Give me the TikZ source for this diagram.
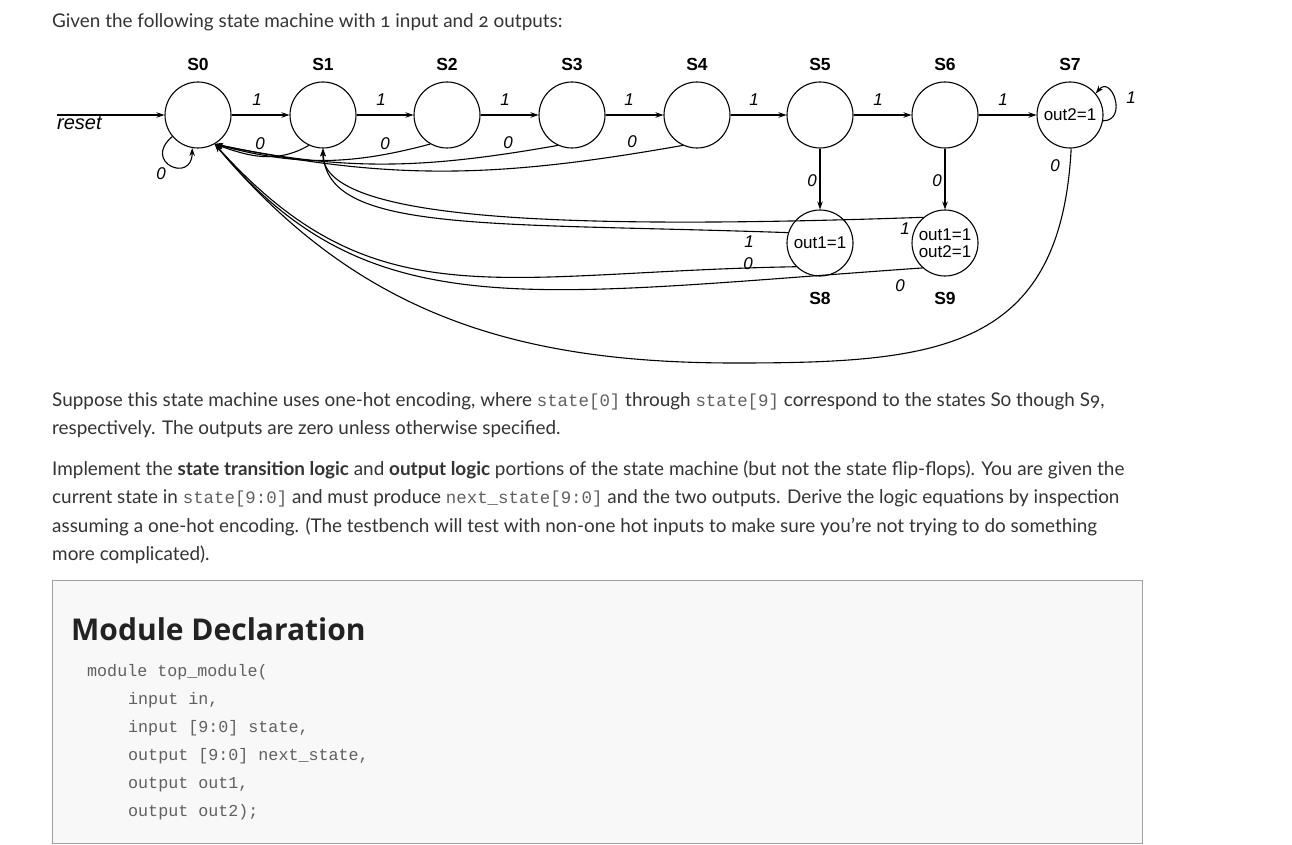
\documentclass[tikz,border=0pt]{standalone}
\usepackage{fontspec}
\setmainfont{Lato}[Numbers=OldStyle]
\setmonofont{Liberation Mono}
\newfontfamily\diagfont{Liberation Sans}
\newfontfamily\headfont{Open Sans}
\usetikzlibrary{arrows.meta}
\definecolor{bodytext}{HTML}{333333}
\definecolor{codegray}{HTML}{606060}
\definecolor{boxfill}{HTML}{F8F8F8}
\definecolor{boxline}{HTML}{A0A0A0}
\definecolor{headtext}{HTML}{222222}
\newcommand{\code}[1]{{\ttfamily\fontsize{17.4}{17.4}\selectfont\color{codegray}#1}}

\begin{document}
\begin{tikzpicture}[x=1pt,y=1pt,
  fsm/.style={draw,circle,minimum size=66pt,line width=1.1pt,font=\diagfont\fontsize{17}{17}\selectfont},
  tag/.style={font=\diagfont\bfseries\fontsize{17.5}{17.5}\selectfont},
  lbl/.style={font=\diagfont\itshape\fontsize{17}{17}\selectfont},
  edge/.style={line width=1.1pt,-{Stealth[length=8pt,width=5.5pt]}},
  para/.style={anchor=base west,font=\fontsize{18.9}{18.9}\selectfont,text=bodytext},
  codeline/.style={anchor=base west,font=\ttfamily\fontsize{16.7}{16.7}\selectfont,text=codegray}]
\tikzstyle{every node}+=[inner sep=0pt]
\path[use as bounding box,fill=white] (0,0) rectangle (1292,-845);
\node[para] (intro) at (52,-27.5) {Given the following state machine with 1 input and 2 outputs:};
\node[fsm] (S0) at (198,-115) {};
\node[fsm] (S1) at (323,-115) {};
\node[fsm] (S2) at (447,-115) {};
\node[fsm] (S3) at (572,-115) {};
\node[fsm] (S4) at (697,-115) {};
\node[fsm] (S5) at (820,-115) {};
\node[fsm] (S6) at (945,-115) {};
\node[fsm] (S7) at (1070,-115) {out2=1};
\node[fsm] (S8) at (820,-243) {out1=1};
\node[fsm,align=center] (S9) at (945,-243) {out1=1\\out2=1};
\node[tag] (t0) at (198,-64) {S0};
\node[tag] (t1) at (323,-64) {S1};
\node[tag] (t2) at (447,-64) {S2};
\node[tag] (t3) at (572,-64) {S3};
\node[tag] (t4) at (697,-64) {S4};
\node[tag] (t5) at (820,-64) {S5};
\node[tag] (t6) at (945,-64) {S6};
\node[tag] (t7) at (1070,-64) {S7};
\node[tag] (t8) at (820,-298) {S8};
\node[tag] (t9) at (945,-298) {S9};
\coordinate (rst) at (57,-115);
\coordinate (bot) at (735,-363);
\node[lbl,anchor=north west,font=\diagfont\itshape\fontsize{20}{20}\selectfont] (rlbl) at (57,-116) {reset};
\draw[edge] (rst) -- (S0);
\draw[edge] (S0) -- (S1);
\draw[edge] (S1) -- (S2);
\draw[edge] (S2) -- (S3);
\draw[edge] (S3) -- (S4);
\draw[edge] (S4) -- (S5);
\draw[edge] (S5) -- (S6);
\draw[edge] (S6) -- (S7);
\draw[edge] (S5) -- (S8);
\draw[edge] (S6) -- (S9);
\draw[edge] (S0.-140) to[out=-140,in=-90,out distance=40pt,in distance=36pt] (S0.-100);
\draw[edge] (S7.-10) to[out=0,in=50,distance=25pt] (S7.40);
\draw[edge] (S1.-115) to[out=-150,in=-20] (S0.-60);
\draw[edge] (S2.-120) to[out=-165,in=-15] (S0.-60);
\draw[edge] (S3.-115) to[out=-170,in=-12] (S0.-60);
\draw[edge] (S4.-115) to[out=-170,in=-12] (S0.-60);
\draw[edge] (S8.162) to[out=178,in=-88,out distance=300pt,in distance=85pt] (S1.-90);
\draw[edge] (S9.130) to[out=182,in=-92,out distance=380pt,in distance=70pt] (S1.-90);
\draw[edge] (S8.-135) to[out=181,in=-48,out distance=300pt,in distance=240pt] (S0.-60);
\draw[edge] (S9.-132) to[out=184,in=-50,out distance=400pt,in distance=240pt] (S0.-60);
\draw[edge] (S7.-88) to[out=-93,in=0,looseness=1.3] (bot) to[out=180,in=-50] (S0.-60);
\node[lbl] (l01) at (257,-100) {1};
\node[lbl] (l12) at (381,-100) {1};
\node[lbl] (l23) at (505,-100) {1};
\node[lbl] (l34) at (629,-100) {1};
\node[lbl] (l45) at (754,-100) {1};
\node[lbl] (l56) at (878,-100) {1};
\node[lbl] (l67) at (1003,-100) {1};
\node[lbl] (l77) at (1131,-98) {1};
\node[lbl] (l00) at (161,-174) {0};
\node[lbl] (l10) at (260,-144) {0};
\node[lbl] (l20) at (385,-144) {0};
\node[lbl] (l30) at (508,-143) {0};
\node[lbl] (l40) at (632,-142) {0};
\node[lbl] (l58) at (812,-181) {0};
\node[lbl] (l69) at (937,-181) {0};
\node[lbl] (l70) at (1055,-166) {0};
\node[lbl] (l81) at (749,-242) {1};
\node[lbl] (l80) at (748,-264) {0};
\node[lbl] (l91) at (905,-229) {1};
\node[lbl] (l90) at (900,-286) {0};
\node[para] (p1) at (52,-406) {Suppose this state machine uses one-hot encoding, where \code{state[0]} through \code{state[9]} correspond to the states S0 though S9,};
\node[para] (p2) at (52,-434) {respectively. The outputs are zero unless otherwise specified.};
\node[para] (p3) at (52,-475) {Implement the \textbf{state transition logic} and \textbf{output logic} portions of the state machine (but not the state flip-flops). You are given the};
\node[para] (p4) at (52,-503.5) {current state in \code{state[9:0]} and must produce \code{next\_state[9:0]} and the two outputs. Derive the logic equations by inspection};
\node[para] (p5) at (52,-532) {assuming a one-hot encoding. (The testbench will test with non-one hot inputs to make sure you're not trying to do something};
\node[para] (p6) at (52,-560) {more complicated).};
\node[draw=boxline,fill=boxfill,line width=1pt,anchor=north west,minimum width=1090pt,minimum height=263pt] (decl) at (51.5,-579.5) {};
\node[anchor=base west,font=\headfont\bfseries\fontsize{30}{30}\selectfont,text=headtext] (dhead) at (71,-640) {Module Declaration};
\node[codeline] (c1) at (87,-676) {module top\_module(};
\node[codeline] (c2) at (128,-704) {input in,};
\node[codeline] (c3) at (128,-732) {input [9:0] state,};
\node[codeline] (c4) at (128,-760) {output [9:0] next\_state,};
\node[codeline] (c5) at (128,-788) {output out1,};
\node[codeline] (c6) at (128,-816) {output out2);};
\end{tikzpicture}
\end{document}
